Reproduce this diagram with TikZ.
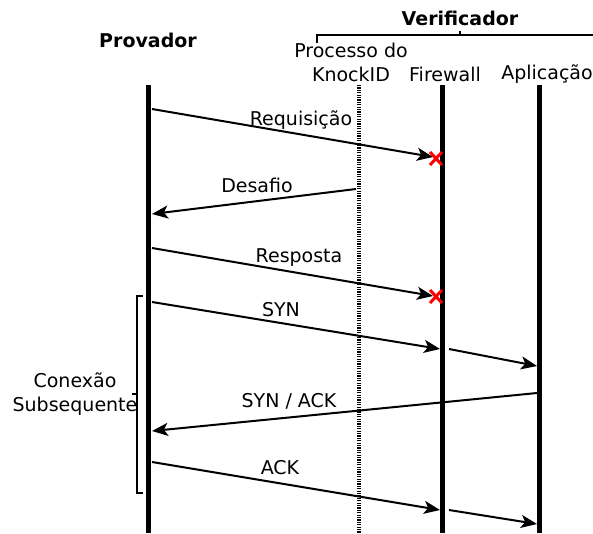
\documentclass[tikz,border=0pt]{standalone}
\usepackage{fontspec}
\setmainfont{DejaVu Sans}
\usetikzlibrary{arrows.meta}
\begin{document}
\begin{tikzpicture}[x=1pt,y=-1pt,
  lbl/.style={font=\fontsize{19}{24}\selectfont, inner sep=0pt},
  head/.style={font=\fontsize{19}{24}\selectfont\bfseries, inner sep=0pt},
  life/.style={line width=5pt},
  lifedash/.style={line width=4pt, dash pattern=on 1.2pt off 1.2pt},
  msg/.style={line width=2pt, -{Stealth[length=16pt,width=13pt,inset=4pt]}},
  blocked/.style={red, line width=3pt},
  brace/.style={line width=1.4pt}]
\useasboundingbox (0,0) rectangle (593,533);

% headings
\node[head] (prov) at (148,40) {Provador};
\node[head] (verif) at (460,18) {Verificador};
\coordinate (vL) at (317,35); \coordinate (vR) at (593,35);
\draw[brace] (317,43) -- (vL) -- (vR);
\draw[brace] (460,35) -- (460,31);

\node[lbl, align=center] (knock) at (351,62) {Processo do\\KnockID};
\node[lbl] (fw) at (445,74) {Firewall};
\node[lbl] (app) at (547,74) {Aplicação};

% lifelines
\coordinate (pT) at (148,85); \coordinate (pB) at (148,533);
\coordinate (kT) at (359,85); \coordinate (kB) at (359,533);
\coordinate (fT) at (442,85); \coordinate (fB) at (442,533);
\coordinate (aT) at (539,85); \coordinate (aB) at (539,533);
\draw[life] (pT) -- (pB);
\draw[lifedash] (kT) -- (kB);
\draw[life] (fT) -- (fB);
\draw[life] (aT) -- (aB);

% Requisição (blocked)
\coordinate (r1) at (152,109); \coordinate (r2) at (433,157);
\draw[msg] (r1) -- (r2);
\node[lbl] (lreq) at (301,120) {Requisição};
\draw[blocked] (430,152) -- (442,165) (442,152) -- (430,165);

% Desafio
\coordinate (d1) at (356,189); \coordinate (d2) at (152,214);
\draw[msg] (d1) -- (d2);
\node[lbl] (ldes) at (257,185) {Desafio};

% Resposta (blocked)
\coordinate (s1) at (152,248); \coordinate (s2) at (433,296);
\draw[msg] (s1) -- (s2);
\node[lbl] (lres) at (299,258) {Resposta};
\draw[blocked] (430,290) -- (442,303) (442,290) -- (430,303);

% SYN
\coordinate (y1) at (152,302); \coordinate (y2) at (440,349);
\coordinate (y3) at (449,349); \coordinate (y4) at (537,366);
\draw[msg] (y1) -- (y2);
\draw[msg] (y3) -- (y4);
\node[lbl] (lsyn) at (281,310) {SYN};

% SYN / ACK
\coordinate (sa1) at (537,393); \coordinate (sa2) at (152,431);
\draw[msg] (sa1) -- (sa2);
\node[lbl] (lsa) at (289,401) {SYN / ACK};

% ACK
\coordinate (k1) at (152,462); \coordinate (k2) at (440,510);
\coordinate (k3) at (449,510); \coordinate (k4) at (537,524);
\draw[msg] (k1) -- (k2);
\draw[msg] (k3) -- (k4);
\node[lbl] (lack) at (280,468) {ACK};

% bracket for the subsequent connection
\coordinate (bT) at (137,296); \coordinate (bB) at (137,493);
\draw[brace] (143,296) -- (bT) -- (bB) -- (143,493);
\draw[brace] (137,394) -- (132,394);
\node[lbl, align=center] (lsub) at (75,394) {Conexão\\Subsequente};
\end{tikzpicture}
\end{document}
